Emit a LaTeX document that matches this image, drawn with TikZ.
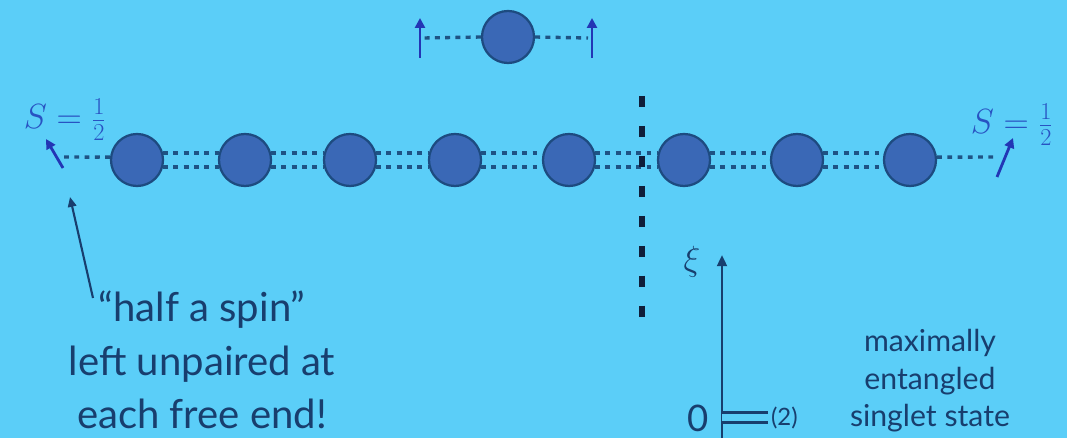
\documentclass[tikz,border=0pt]{standalone}
\usepackage{fontspec}
\setsansfont{Lato}
\usepackage{tikz}
\usetikzlibrary{arrows.meta,positioning}
\definecolor{slidebg}{HTML}{5BCEF8}
\definecolor{sitefill}{HTML}{3A68B6}
\definecolor{siteedge}{HTML}{1D4B80}
\definecolor{bondcol}{HTML}{1E5384}
\definecolor{spinblue}{HTML}{2336B5}
\definecolor{labelblue}{HTML}{2853C2}
\definecolor{inkblue}{HTML}{183E6E}
\definecolor{cutcol}{HTML}{0F1E3A}
\tikzset{
  sitenode/.style={circle,draw=siteedge,fill=sitefill,line width=1.6pt,minimum size=1.3cm,inner sep=0pt},
  bondline/.style={bondcol,line width=2.4pt,dash pattern=on 3.5pt off 3.8pt},
  spinarrow/.style={-{Triangle[length=7pt,width=7pt]},spinblue,line width=2pt},
  cutline/.style={cutcol,line width=3.8pt,dash pattern=on 7.8pt off 13.5pt},
  axisarrow/.style={-{Triangle[length=8pt,width=7pt]},inkblue,line width=1.8pt},
  levelpair/.style={inkblue,line width=2pt,double=slidebg,double distance=5.5pt},
  notearrow/.style={-{Triangle[length=7pt,width=6pt]},inkblue,line width=1.5pt},
  slidetext/.style={inkblue,font=\sffamily\fontsize{28.5}{38}\selectfont,align=center,inner sep=0pt},
  smalltext/.style={inkblue,font=\sffamily\fontsize{21.5}{26.6}\selectfont,align=center},
  spinlabel/.style={labelblue,font=\fontsize{26}{30}\selectfont},
}

\begin{document}
\begin{tikzpicture}[x=0.025cm,y=-0.025cm]
    \fill[slidebg] (0,0) rectangle (1067,438);
    \useasboundingbox (0,0) rectangle (1067,438);

    % the chain
    \node[sitenode] (s1) at (137,160) {};
    \node[sitenode] (s2) at (245,160) {};
    \node[sitenode] (s3) at (350,160) {};
    \node[sitenode] (s4) at (455,160) {};
    \node[sitenode] (s5) at (569,160) {};
    \node[sitenode] (s6) at (684,160) {};
    \node[sitenode] (s7) at (797,160) {};
    \node[sitenode] (s8) at (910,160) {};
    \draw[bondline] (s1.15) -- (s2.165) (s1.-15) -- (s2.-165)
      (s2.15) -- (s3.165) (s2.-15) -- (s3.-165)
      (s3.15) -- (s4.165) (s3.-15) -- (s4.-165)
      (s4.15) -- (s5.165) (s4.-15) -- (s5.-165)
      (s5.15) -- (s6.165) (s5.-15) -- (s6.-165)
      (s6.15) -- (s7.165) (s6.-15) -- (s7.-165)
      (s7.15) -- (s8.165) (s7.-15) -- (s8.-165);

    % free end spins
    \coordinate (lend) at (64,157);
    \coordinate (lspin) at (63,168);
    \coordinate (lspintip) at (46,139);
    \coordinate (rend) at (998,157);
    \coordinate (rspin) at (997,177);
    \coordinate (rspintip) at (1013,138);
    \draw[bondline] (s1.174) -- (lend);
    \draw[bondline] (s8.6) -- (rend);
    \draw[spinarrow] (lspin) -- (lspintip);
    \draw[spinarrow] (rspin) -- (rspintip);
    \node[spinlabel] (lS) at (65,120) {$S=\frac{1}{2}$};
    \node[spinlabel] (rS) at (1012,125) {$S=\frac{1}{2}$};

    % isolated pair on top
    \node[sitenode] (pair) at (508,37) {};
    \coordinate (tlend) at (424,38);
    \coordinate (trend) at (588,38);
    \coordinate (tlspin) at (420,58);
    \coordinate (tlspintip) at (420,18);
    \coordinate (trspin) at (592,58);
    \coordinate (trspintip) at (592,18);
    \draw[bondline] (pair.west) -- (tlend);
    \draw[bondline] (pair.east) -- (trend);
    \draw[spinarrow] (tlspin) -- (tlspintip);
    \draw[spinarrow] (trspin) -- (trspintip);

    % entanglement cut
    \coordinate (cuttop) at (642,96);
    \coordinate (cutbot) at (642,328);
    \draw[cutline] (cuttop) -- (cutbot);

    % entanglement spectrum
    \coordinate (axbot) at (722,440);
    \coordinate (axtop) at (722,255);
    \coordinate (lev) at (722,417.5);
    \coordinate (levend) at (768,417.5);
    \draw[axisarrow] (axbot) -- (axtop);
    \node[inkblue,font=\fontsize{24}{28}\selectfont] (xi) at (692,262) {$\xi$};
    \node[inkblue,font=\sffamily\fontsize{26}{30}\selectfont] (zero) at (698,418) {0};
    \node[inkblue,font=\sffamily\fontsize{17}{20}\selectfont,inner sep=1pt,right=1pt of levend] (deg) {(2)};
    \draw[levelpair] (lev) -- (levend);
    \node[smalltext] (singlet) at (930,381) {maximally\\entangled\\singlet state};

    % free end note
    \node[slidetext] (halfspin) at (202,360) {``half a spin''\\left unpaired at\\each free end!};
    \coordinate (notetail) at (93,298);
    \coordinate (notetip) at (70,197);
    \draw[notearrow] (notetail) -- (notetip);
\end{tikzpicture}
\end{document}
